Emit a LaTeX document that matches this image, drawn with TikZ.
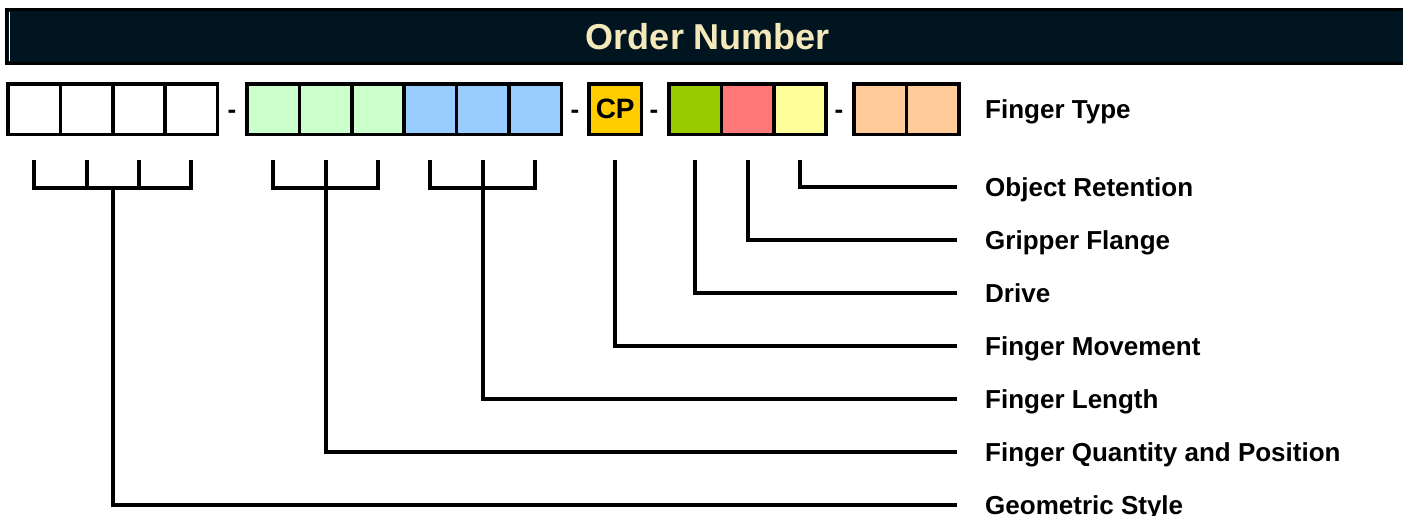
\documentclass[tikz,border=0pt]{standalone}
\usepackage{fontspec}
\setmainfont{Liberation Sans}
\usetikzlibrary{calc}
\definecolor{hdrfill}{RGB}{1,21,32}
\definecolor{titlecol}{RGB}{245,233,187}
\definecolor{lgreen}{HTML}{CCFFCC}
\definecolor{lblue}{HTML}{99CCFF}
\definecolor{cpcol}{HTML}{FFCC00}
\definecolor{dgreen}{HTML}{99CC00}
\definecolor{lred}{HTML}{FF7777}
\definecolor{lyellow}{HTML}{FFFF99}
\definecolor{lorange}{HTML}{FFCC99}
\begin{document}
\begin{tikzpicture}[x=1pt,y=-1pt,
  cell/.style={draw=black, line width=3.5pt, minimum width=52.4pt, minimum height=50.5pt, inner sep=0pt, outer sep=0pt},
  conn/.style={draw=black, line width=4pt},
  lab/.style={font=\fontsize{26}{30}\selectfont\bfseries, inner sep=0pt, anchor=base west},
  dashtxt/.style={font=\fontsize{26}{30}\selectfont\bfseries, inner sep=0pt, anchor=base},
]
\useasboundingbox (0,0) rectangle (1403,515);
% header
\node[draw=black, line width=3pt, fill=hdrfill, minimum width=1403pt, minimum height=54pt,
      inner sep=0pt, text=titlecol, font=\fontsize{36}{40}\selectfont\bfseries] (hdr) at (708,36.5) {Order Number};
\draw[white, line width=1pt] (9.5,12) -- (9.5,61);
% boxes
\node[cell, fill=white] (g1a) at (34.2,109) {};
\node[cell, fill=white] (g1b) at (86.6,109) {};
\node[cell, fill=white] (g1c) at (139,109) {};
\node[cell, fill=white] (g1d) at (191.4,109) {};
\node[dashtxt] (d1) at (232,118) {-};
\node[cell, fill=lgreen] (g2a) at (273.2,109) {};
\node[cell, fill=lgreen] (g2b) at (325.6,109) {};
\node[cell, fill=lgreen] (g2c) at (378,109) {};
\node[cell, fill=lblue] (g3a) at (430.4,109) {};
\node[cell, fill=lblue] (g3b) at (482.8,109) {};
\node[cell, fill=lblue] (g3c) at (535.2,109) {};
\node[dashtxt] (d2) at (575,118) {-};
\node[cell, fill=cpcol, font=\fontsize{28}{32}\selectfont\bfseries] (cp) at (615.2,109) {CP};
\node[dashtxt] (d3) at (654,118) {-};
\node[cell, fill=dgreen] (dg) at (695.2,109) {};
\node[cell, fill=lred] (rd) at (747.6,109) {};
\node[cell, fill=lyellow] (yl) at (800,109) {};
\node[dashtxt] (d4) at (839,118) {-};
\node[cell, fill=lorange] (or1) at (880.2,109) {};
\node[cell, fill=lorange] (or2) at (932.6,109) {};
\node[lab] (ltype) at (985,118) {Finger Type};
% reference levels
\coordinate (tick) at (0,160);
\coordinate (brk) at (0,188);
% line ends and labels
\coordinate (eret) at (957,187);
\coordinate (eflange) at (957,240);
\coordinate (edrive) at (957,293);
\coordinate (emove) at (957,346);
\coordinate (elen) at (957,399);
\coordinate (eqty) at (957,452);
\coordinate (egeo) at (957,505);
\node[lab] (lret) at ([xshift=28pt,yshift=-9pt]eret) {Object Retention};
\node[lab] (lflange) at ([xshift=28pt,yshift=-9pt]eflange) {Gripper Flange};
\node[lab] (ldrive) at ([xshift=28pt,yshift=-9pt]edrive) {Drive};
\node[lab] (lmove) at ([xshift=28pt,yshift=-9pt]emove) {Finger Movement};
\node[lab] (llen) at ([xshift=28pt,yshift=-9pt]elen) {Finger Length};
\node[lab] (lqty) at ([xshift=28pt,yshift=-9pt]eqty) {Finger Quantity and Position};
\node[lab] (lgeo) at ([xshift=28pt,yshift=-9pt]egeo) {Geometric Style};
% brackets
\draw[conn] (g1a |- tick) -- (g1a |- brk) -- (g1d |- brk) -- (g1d |- tick);
\draw[conn] (g1b |- tick) -- (g1b |- brk);
\draw[conn] (g1c |- tick) -- (g1c |- brk);
\draw[conn] ($(g1b |- brk)!0.5!(g1c |- brk)$) |- (egeo);
\draw[conn] (g2a |- tick) -- (g2a |- brk) -- (g2c |- brk) -- (g2c |- tick);
\draw[conn] (g2b |- tick) -- (g2b |- brk) |- (eqty);
\draw[conn] (g3a |- tick) -- (g3a |- brk) -- (g3c |- brk) -- (g3c |- tick);
\draw[conn] (g3b |- tick) -- (g3b |- brk) |- (elen);
\draw[conn] (cp |- tick) |- (emove);
\draw[conn] (dg |- tick) |- (edrive);
\draw[conn] (rd |- tick) |- (eflange);
\draw[conn] (yl |- tick) |- (eret);
\end{tikzpicture}
\end{document}
